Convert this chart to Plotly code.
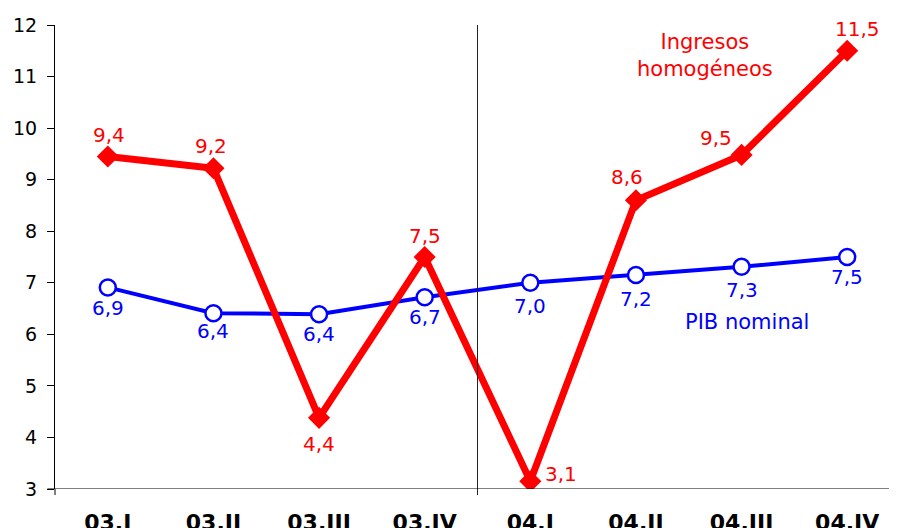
import plotly.graph_objects as go

categories = ["03.I", "03.II", "03.III", "03.IV", "04.I", "04.II", "04.III", "04.IV"]
ingresos = [9.45, 9.22, 4.38, 7.5, 3.15, 8.6, 9.48, 11.5]
ingresos_labels = ["9,4", "9,2", "4,4", "7,5", "3,1", "8,6", "9,5", "11,5"]
pib = [6.91, 6.41, 6.39, 6.72, 7.0, 7.15, 7.31, 7.5]
pib_labels = ["6,9", "6,4", "6,4", "6,7", "7,0", "7,2", "7,3", "7,5"]
y_ticks = [3, 4, 5, 6, 7, 8, 9, 10, 11, 12]

FONT = "DejaVu Sans"
RED = "#ff0000"
BLUE = "#0000ff"

# label placement offsets (pixels)
red_shift = [(1, 21), (-2, 22), (0, -26), (0, 21), (31, 7), (-9, 23), (-26, 17), (10, 22)]
blue_shift = [(0, -21), (0, -18), (0, -20), (0, -20), (0, -23), (0, -24), (0, -23), (0, -20)]

fig = go.Figure()
fig.add_trace(go.Scatter(
    x=categories, y=pib, mode="lines+markers",
    line=dict(color=BLUE, width=4),
    marker=dict(symbol="circle", size=16, color="white", line=dict(color=BLUE, width=2.5)),
    showlegend=False, hoverinfo="skip"))
fig.add_trace(go.Scatter(
    x=categories, y=ingresos, mode="lines+markers",
    line=dict(color=RED, width=7),
    marker=dict(symbol="diamond", size=17, color=RED),
    showlegend=False, hoverinfo="skip"))

for c, v, t, (dx, dy) in zip(categories, ingresos, ingresos_labels, red_shift):
    fig.add_annotation(x=c, y=v, text=t, showarrow=False, xshift=dx, yshift=dy,
                       font=dict(family=FONT, size=20, color=RED))
for c, v, t, (dx, dy) in zip(categories, pib, pib_labels, blue_shift):
    fig.add_annotation(x=c, y=v, text=t, showarrow=False, xshift=dx, yshift=dy,
                       font=dict(family=FONT, size=20, color=BLUE))

fig.add_annotation(x=0.769, xref="paper", xanchor="center", y=11.4, text="Ingresos<br>homogéneos",
                   showarrow=False, font=dict(family=FONT, size=21, color=RED))
fig.add_annotation(x=0.819, xref="paper", xanchor="center", y=6.24, text="PIB nominal",
                   showarrow=False, font=dict(family=FONT, size=21, color=BLUE))

# vertical separator between years
fig.add_shape(type="line", xref="x", yref="paper", x0=3.5, x1=3.5, y0=-0.013, y1=1,
              line=dict(color="#222222", width=1))

fig.update_layout(
    width=897, height=528,
    margin=dict(l=47, r=5, t=17, b=47),
    paper_bgcolor="white", plot_bgcolor="white",
    font=dict(family=FONT, size=19, color="black"),
)
fig.update_xaxes(
    type="category", range=[-0.5, 7.5], automargin=False,
    showgrid=False, showline=False, ticks="", zeroline=False,
    tickfont=dict(family=FONT, size=22, color="black", weight="bold"),
    ticklabelstandoff=18,
)
fig.update_yaxes(
    range=[3, 12], tickvals=y_ticks, ticktext=[str(v) for v in y_ticks], automargin=False,
    showgrid=False, showline=True, linecolor="black", linewidth=1,
    ticks="outside", ticklen=7, tickcolor="black", zeroline=False,
    tickfont=dict(family=FONT, size=19, color="black"),
    ticklabelstandoff=6,
)
# horizontal axis line at y=3
fig.add_shape(type="line", xref="paper", yref="y", x0=-0.009, x1=1, y0=3, y1=3,
              line=dict(color="black", width=1))
fig.add_shape(type="line", xref="paper", yref="paper", x0=0, x1=0, y0=0, y1=-0.013,
              line=dict(color="black", width=1))

fig.write_html("out.html")
